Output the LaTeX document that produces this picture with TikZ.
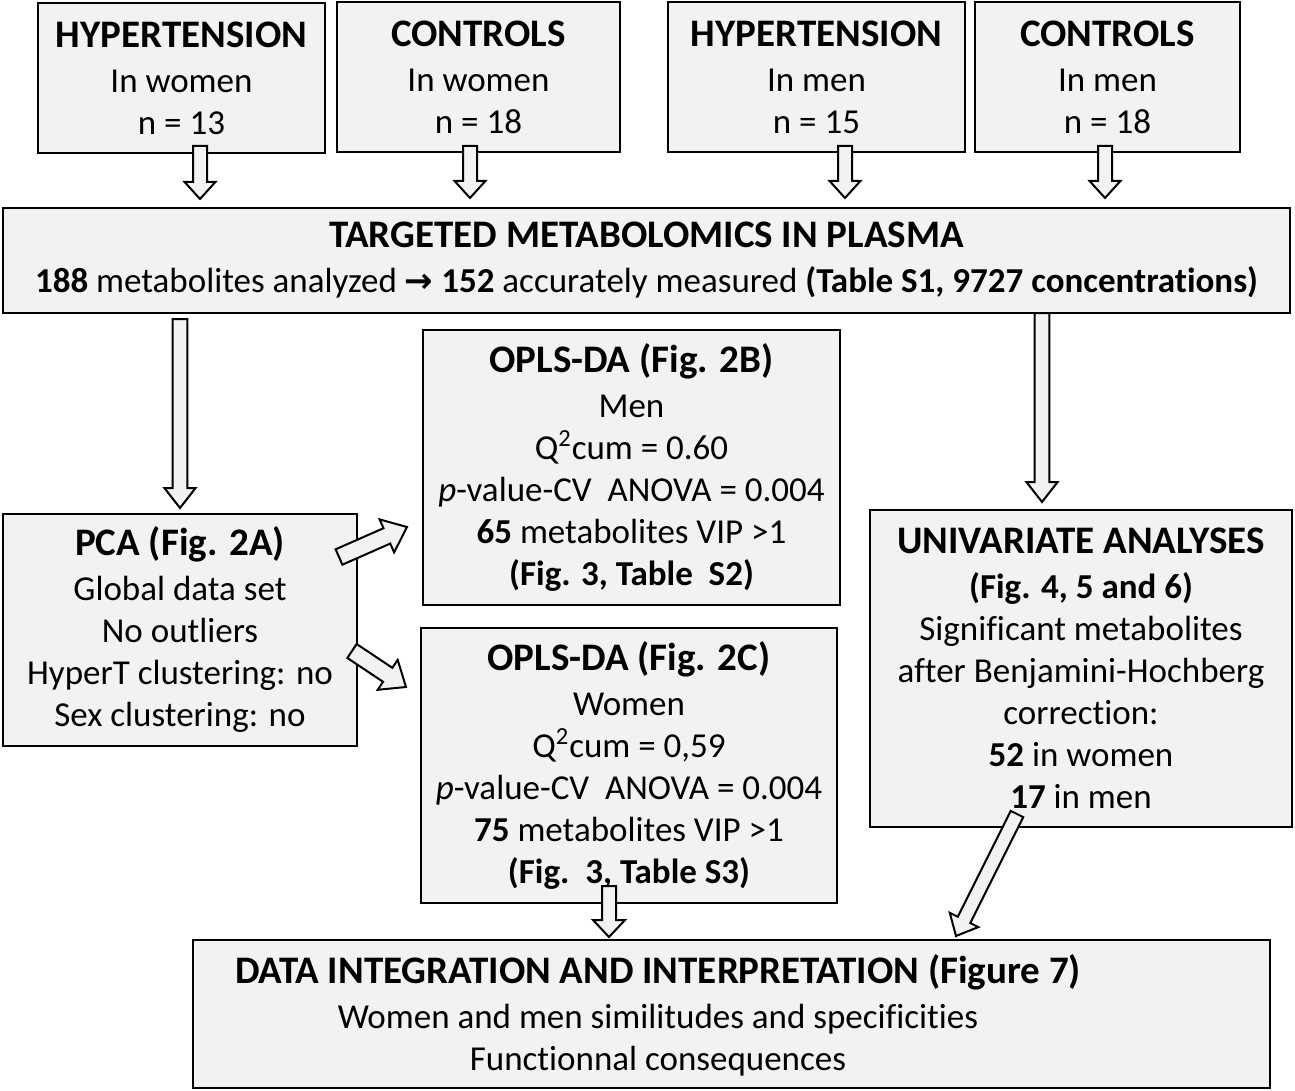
\documentclass[tikz,border=0pt]{standalone}
\usepackage{fontspec}
\setmainfont{Carlito}[Ligatures={NoCommon}]
\newfontfamily\djv{DejaVu Sans}
\usetikzlibrary{calc}
\definecolor{boxgray}{HTML}{F2F2F2}
\tikzset{
  box/.style={draw=black, line width=1.3pt, fill=boxgray, align=center, inner sep=0pt,
    font=\fontsize{17.5}{21}\selectfont},
  txt/.style={align=center, inner sep=0pt, font=\fontsize{17.5}{21}\selectfont},
  barrowstyle/.style={draw=black, fill=boxgray, line width=1pt, line join=miter},
}
\newcommand\ttl[1]{{\fontsize{19.5}{22}\selectfont\bfseries #1}}
% hollow block arrow between two named points: from, to, half shaft, half head, head length
\newcommand\blockarrow[5]{%
  \coordinate (hb) at ($(#2)!#5!(#1)$);
  \draw[barrowstyle] ($(#1)!#3!-90:(#2)$) -- ($(hb)!#3!-90:(#2)$) -- ($(hb)!#4!-90:(#2)$) -- (#2)
     -- ($(hb)!#4!90:(#2)$) -- ($(hb)!#3!90:(#2)$) -- ($(#1)!#3!90:(#2)$) -- cycle;}
\begin{document}
\begin{tikzpicture}[x=0.5pt,y=-0.5pt]
\useasboundingbox (0,0) rectangle (1295,1091);

% top group boxes
\node[box, minimum width=143.5pt, minimum height=75pt] (hw) at (181.5,78) {\ttl{HYPERTENSION}\\[1.5pt] In women\\ n = 13};
\node[box, minimum width=141.5pt, minimum height=75pt] (cw) at (478.5,77) {\ttl{CONTROLS}\\[1.5pt] In women\\ n = 18};
\node[box, minimum width=148.5pt, minimum height=75pt] (hm) at (816.5,77) {\ttl{HYPERTENSION}\\[1.5pt] In men\\ n = 15};
\node[box, minimum width=132.5pt, minimum height=75pt] (cm) at (1107.5,77) {\ttl{CONTROLS}\\[1.5pt] In men\\ n = 18};

% targeted metabolomics
\node[box, minimum width=643.5pt, minimum height=52.5pt] (tm) at (646.5,260.5)
  {\ttl{TARGETED METABOLOMICS IN PLASMA}\\[1.5pt] \textbf{188} metabolites\ analyzed {\djv\bfseries\fontsize{17}{21}\selectfont →} \textbf{152} accurately measured \textbf{(Table S1, 9727 concentrations)}};

% PCA
\node[box, minimum width=177pt, minimum height=116pt] (pca) at (180,630)
  {\ttl{PCA (Fig. 2A)}\\[1.5pt] Global\ data set\\ No outliers\\ HyperT clustering: no\\ Sex clustering: no};

% OPLS-DA men
\node[box, minimum width=208.5pt, minimum height=137.5pt] (om) at (631.5,467.5)
  {\ttl{OPLS-DA (Fig. 2B)}\\[1.5pt] Men\\ Q\textsuperscript{2}cum = 0.60\\ \textit{p}-value-CV\ \ ANOVA = 0.004\\ \textbf{65} metabolites\ VIP >1\\ \textbf{(Fig. 3, Table\ \ S2)}};

% OPLS-DA women
\node[box, minimum width=208pt, minimum height=137.5pt] (ow) at (629,765.5)
  {\ttl{OPLS-DA (Fig. 2C)}\\[1.5pt] Women\\ Q\textsuperscript{2}cum = 0,59\\ \textit{p}-value-CV\ \ ANOVA = 0.004\\ \textbf{75} metabolites VIP >1\\ \textbf{(Fig.\ \ 3, Table S3)}};

% univariate
\node[box, minimum width=211pt, minimum height=158.5pt] (uni) at (1081,668.5)
  {\ttl{UNIVARIATE ANALYSES}\\[1.5pt] \textbf{(Fig. 4, 5 and 6)}\\ Significant metabolites\\ after Benjamini-Hochberg\\ correction:\\ \textbf{52} in women\\ \textbf{17} in men};

% data integration
\node[box, minimum width=538.5pt, minimum height=74pt] (di) at (731.5,1014) {};
\node[txt] (ditxt) at (658,1015)
  {\ttl{DATA INTEGRATION AND INTERPRETATION (Figure 7)}\\[1.5pt] Women and men similitudes and specificities\\ Functionnal consequences};

% arrow end points
\coordinate (a1s) at (200,146);  \coordinate (a1e) at (200,199);
\coordinate (a2s) at (470,146);  \coordinate (a2e) at (470,198);
\coordinate (a3s) at (845,146);  \coordinate (a3e) at (845,198);
\coordinate (a4s) at (1105,146); \coordinate (a4e) at (1105,198);
\coordinate (l1s) at (180,319);  \coordinate (l1e) at (180,508);
\coordinate (r1s) at (1042,313); \coordinate (r1e) at (1042,502);
\coordinate (d1s) at (339,557);  \coordinate (d1e) at (407,527);
\coordinate (d2s) at (352,651);  \coordinate (d2e) at (406,687);
\coordinate (w1s) at (609,886);  \coordinate (w1e) at (609,937);
\coordinate (u1s) at (1017,814); \coordinate (u1e) at (956,936);

\blockarrow{a1s}{a1e}{3.5pt}{7.7pt}{8.5pt}
\blockarrow{a2s}{a2e}{3.5pt}{7.7pt}{8.5pt}
\blockarrow{a3s}{a3e}{3.5pt}{7.7pt}{8.5pt}
\blockarrow{a4s}{a4e}{3.5pt}{7.7pt}{8.5pt}
\blockarrow{l1s}{l1e}{3.7pt}{7.8pt}{10pt}
\blockarrow{r1s}{r1e}{3.7pt}{7.8pt}{10pt}
\blockarrow{d1s}{d1e}{4.2pt}{9pt}{11pt}
\blockarrow{d2s}{d2e}{4.2pt}{9pt}{11pt}
\blockarrow{w1s}{w1e}{3.5pt}{8pt}{8.5pt}
\blockarrow{u1s}{u1e}{3.5pt}{8pt}{9pt}
\end{tikzpicture}
\end{document}
